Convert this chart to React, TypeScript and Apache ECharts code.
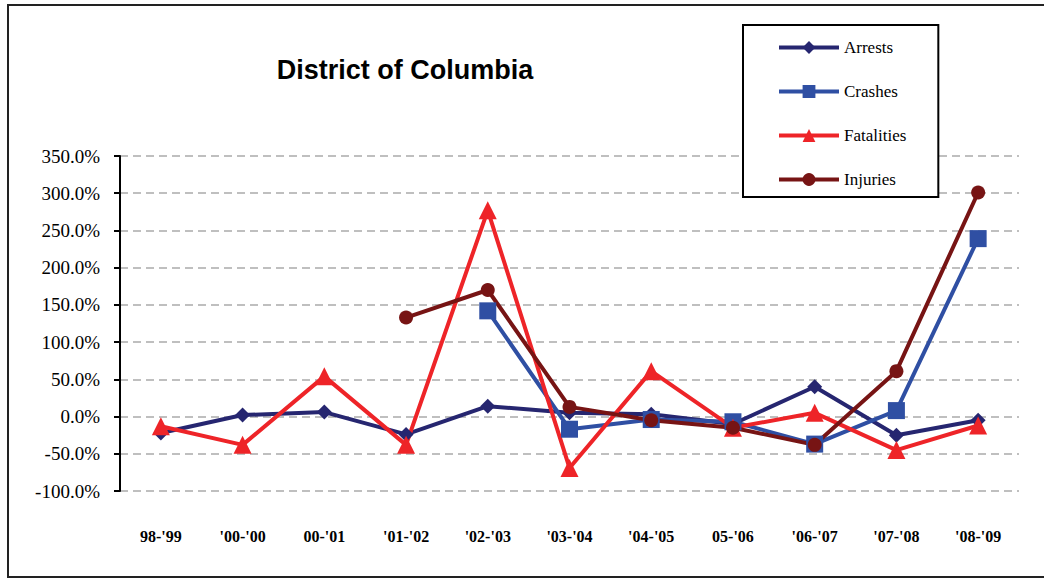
import React, { useEffect, useRef } from "react";
import * as echarts from "echarts";

const categories = ["98-'99", "'00-'00", "00-'01", "'01-'02", "'02-'03", "'03-'04", "'04-'05", "05-'06", "'06-'07", "'07-'08", "'08-'09"];
const arrests = [-22, 2, 6, -24, 14, 5, 3, -10, 40, -25, -5];
const crashes = [null, null, null, null, 142, -17, -4, -7, -37, 8, 239];
const fatalities = [-13, -38, 54, -38, 277, -69, 61, -15, 5, -45, -12];
const injuries = [null, null, null, 133, 170, 13, -5, -15, -38, 61, 301];
const yTicks = { min: -100, max: 350, interval: 50 };

const serif = "'Liberation Serif', 'Times New Roman', serif";

export default function App() {
  const ref = useRef<HTMLDivElement>(null);
  useEffect(() => {
    if (!ref.current) return;
    const chart = echarts.init(ref.current, null, { renderer: "svg" });
    const mk = (name: string, data: any[], color: string, symbol: string, size: number) => ({
      name,
      type: "line",
      data,
      connectNulls: false,
      symbol,
      symbolSize: size,
      lineStyle: { color, width: 4 },
      itemStyle: { color },
      z: 3,
    });
    chart.setOption({
      animation: false,
      backgroundColor: "#ffffff",
      title: {
        text: "District of Columbia",
        left: 400,
        top: 51,
        textAlign: "center",
        textStyle: { fontFamily: "Arial, 'Liberation Sans', sans-serif", fontWeight: "bold", fontSize: 27, color: "#000" },
      },
      graphic: [
        {
          type: "rect",
          shape: { x: 8, y: 5, width: 1040, height: 572 },
          style: { fill: "none", stroke: "#222", lineWidth: 2 },
          silent: true,
          z: 0,
        },
      ],
      legend: {
        orient: "vertical",
        left: 743,
        top: 25,
        itemWidth: 60,
        itemHeight: 16,
        itemGap: 27,
        padding: [14, 32, 9, 34],
        borderColor: "#000",
        borderWidth: 2,
        backgroundColor: "#fff",
        lineStyle: { width: 4 },
        textStyle: { fontFamily: serif, fontSize: 17, color: "#000" },
        data: ["Arrests", "Crashes", "Fatalities", "Injuries"],
        z: 10,
      },
      grid: { left: 120, right: 25, top: 156, bottom: 87, containLabel: false },
      xAxis: {
        type: "category",
        data: categories,
        boundaryGap: true,
        axisLine: { show: false },
        axisTick: { show: false },
        axisLabel: { margin: 37, fontFamily: serif, fontWeight: "bold", fontSize: 16, color: "#000" },
      },
      yAxis: {
        type: "value",
        min: yTicks.min,
        max: yTicks.max,
        interval: yTicks.interval,
        axisLine: { show: true, lineStyle: { color: "#000", width: 2 } },
        axisTick: { show: true, inside: false, length: 6, lineStyle: { color: "#000", width: 2 } },
        axisLabel: {
          margin: 20,
          fontFamily: serif,
          fontSize: 19,
          color: "#000",
          formatter: (v: number) => `${v.toFixed(1)}%`,
        },
        splitLine: { show: true, lineStyle: { color: "#bfbfbf", width: 2, type: [8, 5] } },
      },
      series: [
        mk("Arrests", arrests, "#262670", "diamond", 15),
        mk("Crashes", crashes, "#2f4fa3", "rect", 17),
        mk("Fatalities", fatalities, "#ee2428", "triangle", 18),
        mk("Injuries", injuries, "#771414", "circle", 14),
      ],
    });
    return () => chart.dispose();
  }, []);
  return <div ref={ref} style={{ position: "absolute", left: 0, top: 0, width: 1044, height: 578 }} />;
}
